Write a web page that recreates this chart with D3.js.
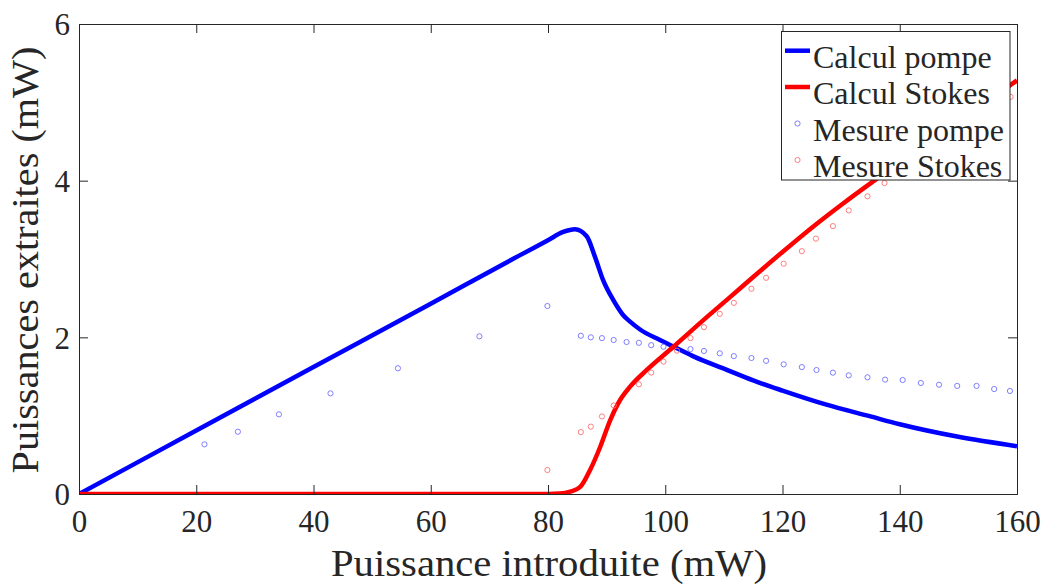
<!DOCTYPE html>
<html><head><meta charset="utf-8">
<script src="https://cdn.jsdelivr.net/npm/d3@7"></script>
</head><body style="margin:0"><svg id="c" width="1046" height="584"></svg>
<script>
// Calculated curves
const calcPompeX = [0, 20, 40, 60, 75, 80, 82.6, 84.6, 86.6, 88, 89.4, 91.1, 92.8, 94, 95.7, 99.1, 102, 105, 110, 115, 120, 127.5, 135, 140, 150, 160];
const calcPompeY = [0, 0.81, 1.62, 2.43, 3.04, 3.24, 3.345, 3.38, 3.29, 3.03, 2.73, 2.48, 2.285, 2.2, 2.1, 1.966, 1.86, 1.75, 1.60, 1.45, 1.32, 1.14, 0.99, 0.89, 0.73, 0.61];
const calcStokesX = [0, 80, 82, 83.8, 85.5, 87.2, 88.9, 90.6, 92.3, 94, 96.8, 101.4, 106.5, 111, 115, 120, 125, 130, 136, 145, 150, 155, 160];
const calcStokesY = [0, 0, 0.005, 0.03, 0.09, 0.31, 0.6, 0.94, 1.2, 1.37, 1.58, 1.88, 2.22, 2.51, 2.77, 3.09, 3.40, 3.69, 4.02, 4.49, 4.76, 5.02, 5.28];
// Measurements
const mesPompeX = [21.4, 27.1, 34.1, 42.9, 54.4, 68.3, 79.9, 85.6, 87.3, 89.2, 91.2, 93.4, 95.5, 97.6, 99.7, 104.3, 106.6, 109.3, 111.7, 114.7, 117.2, 120.2, 123.3, 125.8, 128.6, 131.3, 134.5, 137.5, 140.5, 143.6, 146.7, 149.8, 153.1, 156.1, 158.8];
const mesPompeY = [0.634, 0.795, 1.017, 1.285, 1.605, 2.013, 2.40, 2.02, 2.00, 1.99, 1.966, 1.94, 1.93, 1.90, 1.88, 1.85, 1.826, 1.796, 1.76, 1.736, 1.70, 1.655, 1.62, 1.583, 1.549, 1.515, 1.49, 1.46, 1.455, 1.417, 1.395, 1.38, 1.38, 1.34, 1.315];
const mesStokesX = [79.9, 85.6, 87.3, 89.2, 91.2, 95.5, 97.6, 99.7, 102.0, 104.3, 106.6, 109.3, 111.7, 114.7, 117.2, 120.2, 123.3, 125.7, 128.6, 131.3, 134.5, 137.4, 158.9];
const mesStokesY = [0.306, 0.79, 0.86, 0.99, 1.13, 1.40, 1.55, 1.69, 1.83, 1.99, 2.13, 2.30, 2.44, 2.62, 2.76, 2.94, 3.10, 3.26, 3.42, 3.62, 3.80, 3.97, 5.07];
const xTicks = [0, 20, 40, 60, 80, 100, 120, 140, 160];
const yTicks = [0, 2, 4, 6];
const legendLabels = ["Calcul pompe", "Calcul Stokes", "Mesure pompe", "Mesure Stokes"];
const xTitle = "Puissance introduite (mW)";
const yTitle = "Puissances extraites (mW)";

const FONT = '"Liberation Serif"';
const svg = d3.select("#c");
const L = 79, R = 1017, T = 24, B = 494;
const x = d3.scaleLinear().domain([0, 160]).range([L, R]);
const y = d3.scaleLinear().domain([0, 6]).range([B, T]);
const axisColor = "#262626";

svg.append("defs").append("clipPath").attr("id", "clip")
  .append("rect").attr("x", L).attr("y", T).attr("width", R - L).attr("height", B - T);

const zip = (a, b) => a.map((v, i) => [v, b[i]]);
const line = d3.line().x(d => x(d[0])).y(d => y(d[1])).curve(d3.curveMonotoneX);

const plot = svg.append("g").attr("clip-path", "url(#clip)");
plot.append("path").datum(zip(calcPompeX, calcPompeY)).attr("d", line)
  .attr("fill", "none").attr("stroke", "#0000ff").attr("stroke-width", 4.5).attr("stroke-linejoin", "round");
plot.append("path").datum(zip(calcStokesX, calcStokesY)).attr("d", line)
  .attr("fill", "none").attr("stroke", "#ff0000").attr("stroke-width", 4.5).attr("stroke-linejoin", "round");
plot.selectAll(".mp").data(zip(mesPompeX, mesPompeY)).enter().append("circle")
  .attr("cx", d => x(d[0])).attr("cy", d => y(d[1])).attr("r", 2.6)
  .attr("fill", "none").attr("stroke", "#7070ff").attr("stroke-width", 0.9);
plot.selectAll(".ms").data(zip(mesStokesX, mesStokesY)).enter().append("circle")
  .attr("cx", d => x(d[0])).attr("cy", d => y(d[1])).attr("r", 2.6)
  .attr("fill", "none").attr("stroke", "#ff7070").attr("stroke-width", 0.9);

// axes
const tl = 9;
const gx = svg.append("g").attr("transform", `translate(0,${B})`)
  .call(d3.axisBottom(x).tickValues(xTicks).tickSize(-tl).tickFormat(d3.format("d")));
const gxt = svg.append("g").attr("transform", `translate(0,${T})`)
  .call(d3.axisTop(x).tickValues(xTicks).tickSize(-tl).tickFormat(""));
const gy = svg.append("g").attr("transform", `translate(${L},0)`)
  .call(d3.axisLeft(y).tickValues(yTicks).tickSize(-tl).tickFormat(d3.format("d")));
const gyr = svg.append("g").attr("transform", `translate(${R},0)`)
  .call(d3.axisRight(y).tickValues(yTicks).tickSize(-tl).tickFormat(""));
[gx, gxt, gy, gyr].forEach(g => {
  g.attr("font-family", "Liberation Serif").attr("font-size", 31);
  g.select(".domain").attr("stroke", axisColor).attr("stroke-width", 1);
  g.selectAll(".tick line").attr("stroke", axisColor).attr("stroke-width", 1);
  g.selectAll(".tick text").style("font-family", FONT).style("font-size", "31px").attr("fill", axisColor);
});
gx.selectAll(".tick text").attr("dy", null).attr("y", 38);
gy.selectAll(".tick text").attr("dy", "0.35em").attr("x", -9);

// titles
svg.append("text").attr("x", (L + R) / 2 + 1).attr("y", 576).attr("text-anchor", "middle")
  .attr("font-family", "Liberation Serif").style("font-family", FONT).style("font-size", "38px").attr("fill", axisColor)
  .attr("textLength", 436).attr("lengthAdjust", "spacingAndGlyphs").text(xTitle);
svg.append("text").attr("transform", "translate(38,260) rotate(-90)").attr("text-anchor", "middle")
  .attr("font-family", "Liberation Serif").style("font-family", FONT).style("font-size", "38px").attr("fill", axisColor)
  .attr("textLength", 427).attr("lengthAdjust", "spacingAndGlyphs").text(yTitle);

// legend
const lg = svg.append("g");
lg.append("rect").attr("x", 781.5).attr("y", 31.5).attr("width", 228.5).attr("height", 148.5)
  .attr("fill", "#fff").attr("stroke", axisColor).attr("stroke-width", 1);
const rowsY = [50.7, 87, 123.5, 160];
const colors = ["#0000ff", "#ff0000", "#7070ff", "#ff7070"];
legendLabels.forEach((lab, i) => {
  if (i < 2) {
    lg.append("line").attr("x1", 785).attr("x2", 810).attr("y1", rowsY[i]).attr("y2", rowsY[i])
      .attr("stroke", colors[i]).attr("stroke-width", 4.5);
  } else {
    lg.append("circle").attr("cx", 797.5).attr("cy", rowsY[i]).attr("r", 2.6)
      .attr("fill", "none").attr("stroke", colors[i]).attr("stroke-width", 0.9);
  }
  lg.append("text").attr("x", 813).attr("y", rowsY[i] + 7).attr("dy", "0.32em")
    .attr("font-family", "Liberation Serif").style("font-family", FONT).style("font-size", "32px").attr("fill", axisColor)
    .text(lab);
});
</script></body></html>
